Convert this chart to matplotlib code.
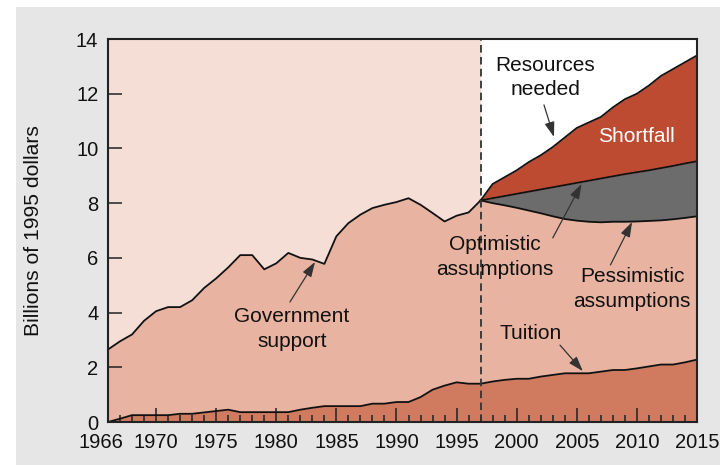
import matplotlib
matplotlib.use("Agg")
import matplotlib.pyplot as plt
import matplotlib.transforms as mtransforms
from matplotlib.patches import Rectangle
from matplotlib.ticker import MultipleLocator, FixedLocator

plt.rcParams['font.family'] = ['Liberation Sans', 'DejaVu Sans']

# ---- data (billions of 1995 dollars) ----
hist_years = list(range(1966, 1998))
gov_total = [2.65, 2.95, 3.2, 3.7, 4.05, 4.2, 4.2, 4.45, 4.9, 5.25,
             5.65, 6.1, 6.1, 5.58, 5.8, 6.18, 6.0, 5.94, 5.78, 6.79,
             7.27, 7.58, 7.82, 7.94, 8.04, 8.18, 7.94, 7.64, 7.33, 7.54,
             7.66, 8.1]

all_years = list(range(1966, 2016))
tuition = [0.0, 0.12, 0.25, 0.25, 0.25, 0.25, 0.3, 0.3, 0.35, 0.4,
           0.45, 0.36, 0.36, 0.36, 0.36, 0.36, 0.45, 0.52, 0.58, 0.58,
           0.58, 0.58, 0.67, 0.67, 0.73, 0.73, 0.91, 1.18, 1.33, 1.45,
           1.40, 1.40, 1.48, 1.54, 1.58, 1.58, 1.66, 1.72, 1.78, 1.78,
           1.78, 1.84, 1.90, 1.90, 1.96, 2.03, 2.10, 2.10, 2.18, 2.28]

proj_years = list(range(1997, 2016))
pessimistic = [8.1, 8.0, 7.92, 7.83, 7.73, 7.63, 7.52, 7.42, 7.36, 7.32,
               7.3, 7.32, 7.32, 7.33, 7.35, 7.37, 7.41, 7.46, 7.52]
optimistic = [8.1, 8.18, 8.26, 8.34, 8.42, 8.5, 8.58, 8.66, 8.74, 8.82,
              8.9, 8.98, 9.06, 9.13, 9.2, 9.28, 9.36, 9.45, 9.53]
resources = [8.1, 8.7, 8.95, 9.2, 9.5, 9.75, 10.05, 10.4, 10.75, 10.95,
             11.15, 11.5, 11.8, 12.0, 12.3, 12.65, 12.9, 13.15, 13.4]

x_labels = ['1966', '1970', '1975', '1980', '1985', '1990', '1995',
            '2000', '2005', '2010', '2015']

# ---- colours ----
c_bg = '#f5ded5'
c_gov = '#e8b3a0'
c_tui = '#d07b60'
c_short = '#bd4b32'
c_grey = '#6c6c6c'
c_panel = '#e6e6e6'
c_line = '#111111'

fig = plt.figure(figsize=(7.2, 4.65), dpi=100)
fig.patch.set_facecolor('white')
fig.patches.append(Rectangle((16 / 720, 0), 1 - 16 / 720, (465 - 7) / 465,
                             transform=fig.transFigure, facecolor=c_panel,
                             edgecolor='none', zorder=-10))

ax = fig.add_axes([108 / 720, 1 - 422 / 465, 589 / 720, 383 / 465])
ax.set_facecolor('white')
ax.set_xlim(1966, 2015)
ax.set_ylim(0, 14)

# light background for historic period
ax.axvspan(1966, 1997, color=c_bg, lw=0, zorder=0)

# government support area (historic + pessimistic projection)
gov_years = hist_years + proj_years[1:]
gov_top = gov_total + pessimistic[1:]
ax.fill_between(gov_years, 0, gov_top, color=c_gov, lw=0, zorder=1)
# grey band between pessimistic and optimistic
ax.fill_between(proj_years, pessimistic, optimistic, color=c_grey, lw=0, zorder=1)
# shortfall
ax.fill_between(proj_years, optimistic, resources, color=c_short, lw=0, zorder=1)
# tuition
ax.fill_between(all_years, 0, tuition, color=c_tui, lw=0, zorder=1.2)

lw = 1.3
ax.plot(gov_years, gov_top, color=c_line, lw=lw, zorder=2)
ax.plot(proj_years, optimistic, color=c_line, lw=lw, zorder=2)
ax.plot(proj_years, resources, color=c_line, lw=lw, zorder=2)
ax.plot(all_years, tuition, color=c_line, lw=lw, zorder=2)

ax.axvline(1997, color='#333333', lw=1.3, dashes=(4.2, 2.4), zorder=3)

# ticks
ax.xaxis.set_major_locator(FixedLocator([int(s) for s in x_labels]))
ax.set_xticklabels(x_labels)
ax.xaxis.set_minor_locator(MultipleLocator(1))
ax.yaxis.set_major_locator(MultipleLocator(2))
ax.tick_params(axis='both', which='major', direction='in', length=10,
               width=1.1, color='#222222', labelsize=14.5, labelcolor='#111111', pad=7)
ax.tick_params(axis='x', which='minor', direction='in', length=5,
               width=1.1, color='#222222')
ax.tick_params(axis='x', which='major', pad=8)
ax.tick_params(axis='y', which='minor', left=False)
for s in ax.spines.values():
    s.set_linewidth(1.5)
    s.set_color('#222222')
    s.set_zorder(4)

# first labels nudged away from the corner, as in the original
fig.canvas.draw()
xl = ax.get_xticklabels()[0]
xl.set_transform(xl.get_transform() + mtransforms.ScaledTranslation(-7 / 100, 0, fig.dpi_scale_trans))
yl = ax.get_yticklabels()[0]
yl.set_transform(yl.get_transform() + mtransforms.ScaledTranslation(0, 4 / 100, fig.dpi_scale_trans))

ax.set_ylabel('Billions of 1995 dollars', fontsize=15.2, color='#111111')
ax.yaxis.set_label_coords((43 - 108) / 589, 0.5)

# annotations
fs = 15
ls = 1.36
ap = dict(arrowstyle='-|>,head_length=0.9,head_width=0.3', color='#333333', lw=0.9,
          shrinkA=0, shrinkB=0)
ax.text(1981.3, 3.40, 'Government\nsupport', ha='center', va='center',
        fontsize=fs, color='#111111', linespacing=ls)
ax.annotate('', xy=(1983.22, 5.85), xytext=(1981.14, 4.39), arrowprops=ap)

ax.text(2002.36, 12.59, 'Resources\nneeded', ha='center', va='center',
        fontsize=fs, color='#111111', linespacing=ls)
ax.annotate('', xy=(2003.1, 10.42), xytext=(2002.27, 11.59), arrowprops=ap)

ax.text(2010.0, 10.42, 'Shortfall', ha='center', va='center',
        fontsize=fs, color='white')

ax.text(1998.2, 6.03, 'Optimistic\nassumptions', ha='center', va='center',
        fontsize=fs, color='#111111', linespacing=ls)
ax.annotate('', xy=(2005.4, 8.70), xytext=(2003.0, 6.73), arrowprops=ap)

ax.text(2009.6, 4.86, 'Pessimistic\nassumptions', ha='center', va='center',
        fontsize=fs, color='#111111', linespacing=ls)
ax.annotate('', xy=(2009.6, 7.31), xytext=(2007.8, 5.74), arrowprops=ap)

ax.text(2001.2, 3.22, 'Tuition', ha='center', va='center',
        fontsize=fs, color='#111111')
ax.annotate('', xy=(2005.5, 1.86), xytext=(2003.6, 2.81), arrowprops=ap)

fig.savefig('out.png', dpi=100)
